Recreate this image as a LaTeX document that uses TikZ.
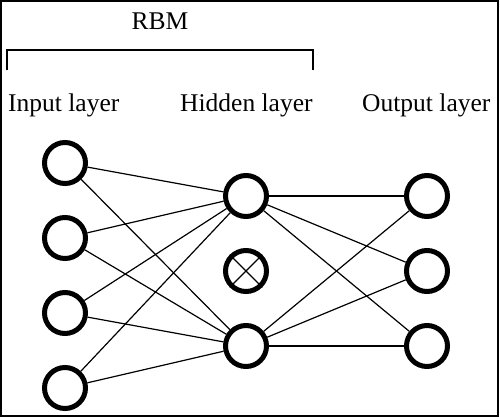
\documentclass[tikz,border=0pt]{standalone}
\usepackage{fontspec}
\setmainfont{Liberation Serif}
\usepackage{tikz}
\usetikzlibrary{positioning}

\tikzset{
    unit/.style={circle, draw, line width=5pt, minimum size=41pt, inner sep=0pt},
    lbl/.style={inner sep=0pt, font=\fontsize{25.5}{30}\selectfont},
    wire/.style={line width=1.2pt}
}

\begin{document}
\begin{tikzpicture}[x=1pt, y=-1pt]
                \useasboundingbox (0,0) rectangle (500,418);
                \draw[line width=2pt] (1,1) rectangle (498,416);

                % ulazni sloj
                \node[unit] (I1) at (65,163) {};
                \node[unit] (I2) at (65,238) {};
                \node[unit] (I3) at (65,313) {};
                \node[unit] (I4) at (65,388) {};

                % skriveni sloj
                \node[unit] (H1) at (246,196) {};
                \node[unit] (H2) at (246,271) {};
                \node[unit] (H3) at (246,346) {};

                % izlazni sloj
                \node[unit] (O1) at (427,196) {};
                \node[unit] (O2) at (427,271) {};
                \node[unit] (O3) at (427,346) {};

                \draw[wire] (H2.north west) -- (H2.south east);
                \draw[wire] (H2.north east) -- (H2.south west);

                \draw[wire] (I1) -- (H1);
                \draw[wire] (I1) -- (H3);
                \draw[wire] (I2) -- (H1);
                \draw[wire] (I2) -- (H3);
                \draw[wire] (I3) -- (H1);
                \draw[wire] (I3) -- (H3);
                \draw[wire] (I4) -- (H1);
                \draw[wire] (I4) -- (H3);

                \draw[wire] (H1) -- (O1);
                \draw[wire] (H1) -- (O2);
                \draw[wire] (H1) -- (O3);
                \draw[wire] (H3) -- (O1);
                \draw[wire] (H3) -- (O2);
                \draw[wire] (H3) -- (O3);

                % natpisi
                \node[lbl, anchor=base] (R) at (160,29) {RBM};
                \node[lbl, anchor=base west] (LI) at (8,111) {Input layer};
                \node[lbl, anchor=base west] (LH) at (180,111) {Hidden layer};
                \node[lbl, anchor=base west] (LO) at (362,111) {Output layer};

                % zagrada iznad ulaza i skrivenog sloja
                \draw[line width=1.2pt] (7,70) -- (7,50) -- (313,50) -- (313,70);
\end{tikzpicture}
\end{document}
